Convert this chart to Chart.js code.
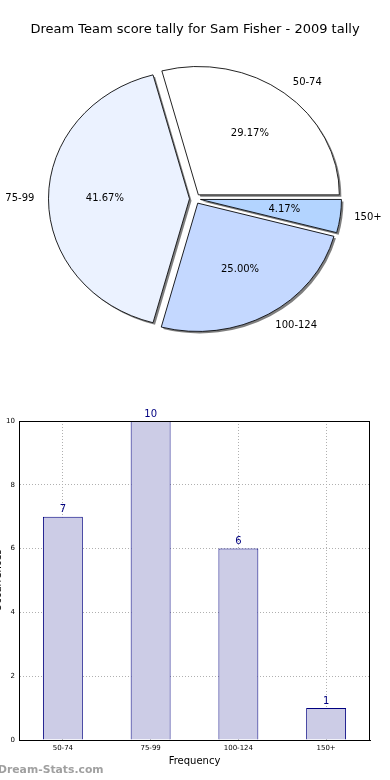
<!DOCTYPE html>
<html lang="en">
<head>
  <meta charset="UTF-8">
  <title>Dream Team score tally for Sam Fisher - 2009 tally</title>
  <script src="https://cdn.jsdelivr.net/npm/chart.js"></script>
  <style>
    body {
      margin: 0;
      background: #ffffff;
      font-family: "DejaVu Sans", sans-serif;
    }
    .wrap {
      position: relative;
      width: 390px;
      height: 780px;
      overflow: hidden;
    }
    #pieBox {
      position: absolute;
      left: 0; top: 0;
      width: 390px; height: 380px;
    }
    #barBox {
      position: absolute;
      left: 0; top: 380px;
      width: 390px; height: 400px;
    }
    .watermark {
      position: absolute;
      left: -2px; top: 763px;
      font-size: 10.8px;
      font-weight: bold;
      color: #a0a0a0;
    }
  </style>
</head>
<body>
<div class="wrap">
  <div id="pieBox"><canvas id="pieChart"></canvas></div>
  <div id="barBox"><canvas id="barChart"></canvas></div>
  <div class="watermark">Dream-Stats.com</div>
</div>

<script>
  const categories = ['50-74', '75-99', '100-124', '150+'];
  const counts = [7, 10, 6, 1];
  const pieColors = ['#ffffff', '#ebf2ff', '#c4d8ff', '#b3d4ff'];
  const yTicks = [0, 2, 4, 6, 8, 10];

  const total = counts.reduce((a, b) => a + b, 0);
  const pctLabels = counts.map(c => (c / total * 100).toFixed(2) + '%');

  // matplotlib goes counter-clockwise from 3 o'clock, chart.js clockwise -> reverse
  const pieLabels = categories.slice().reverse();
  const pieData = counts.slice().reverse();
  const piePct = pctLabels.slice().reverse();
  const pieBg = pieColors.slice().reverse();

  const Y_SQUASH = 0.91;  // axes aspect makes the pie a bit flat
  const SHIFT = 5.5;      // explode distance in px

  const ellipsePlugin = {
    id: 'ellipse',
    beforeDatasetDraw(chart, args) {
      const ctx = chart.ctx;
      const arcs = args.meta.data;
      const place = (a) => {
        const mid = (a.startAngle + a.endAngle) / 2;
        ctx.translate(a.x, a.y);
        ctx.scale(1, Y_SQUASH);
        ctx.translate(SHIFT * Math.cos(mid), SHIFT * Math.sin(mid));
        ctx.translate(-a.x, -a.y);
      };
      // shadows first
      arcs.forEach(a => {
        ctx.save();
        place(a);
        ctx.shadowColor = 'rgba(0,0,0,0.5)';
        ctx.shadowOffsetX = 2;
        ctx.shadowOffsetY = 2;
        ctx.shadowBlur = 0;
        const o = a.options;
        a.options = Object.assign({}, o, { borderWidth: 0 });
        a.draw(ctx);
        a.options = o;
        ctx.restore();
      });
      arcs.forEach(a => {
        ctx.save();
        place(a);
        a.draw(ctx);
        ctx.restore();
      });
      return false;
    },
    afterDatasetsDraw(chart) {
      const ctx = chart.ctx;
      const meta = chart.getDatasetMeta(0);
      ctx.save();
      ctx.font = '10px "DejaVu Sans"';
      ctx.fillStyle = '#000';
      ctx.textBaseline = 'middle';
      meta.data.forEach((a, i) => {
        const mid = (a.startAngle + a.endAngle) / 2;
        const c = Math.cos(mid), s = Math.sin(mid);
        const r = a.outerRadius;
        ctx.textAlign = 'center';
        ctx.fillText(piePct[i], a.x + (0.6 * r + SHIFT) * c, a.y + (0.6 * r + SHIFT) * s * Y_SQUASH);
        ctx.textAlign = c > 0 ? 'left' : 'right';
        ctx.fillText(pieLabels[i], a.x + (1.1 * r + SHIFT) * c, a.y + (1.1 * r + SHIFT) * s * Y_SQUASH);
      });
      ctx.restore();
    }
  };

  new Chart(document.getElementById('pieChart'), {
    type: 'pie',
    data: {
      labels: pieLabels,
      datasets: [{
        data: pieData,
        backgroundColor: pieBg,
        borderColor: '#000',
        borderWidth: 0.9
      }]
    },
    options: {
      responsive: true,
      maintainAspectRatio: false,
      animation: false,
      rotation: 90,
      radius: 141,
      layout: { padding: { bottom: 30 } },
      plugins: {
        legend: { display: false },
        tooltip: { enabled: false },
        title: {
          display: true,
          text: 'Dream Team score tally for Sam Fisher - 2009 tally',
          color: '#000',
          font: { family: 'DejaVu Sans', size: 13, weight: 'normal' },
          padding: { top: 22, bottom: 10 }
        }
      }
    },
    plugins: [ellipsePlugin]
  });

  // box frame, bar value labels, clipped y title
  const barExtras = {
    id: 'barExtras',
    afterDatasetsDraw(chart) {
      const { ctx, chartArea } = chart;
      const meta = chart.getDatasetMeta(0);
      ctx.save();
      ctx.strokeStyle = '#000';
      ctx.lineWidth = 1;
      ctx.strokeRect(chartArea.left + 0.5, chartArea.top + 0.5, chartArea.width - 1, chartArea.height);
      ctx.font = '10px "DejaVu Sans"';
      ctx.fillStyle = '#000080';
      ctx.textAlign = 'center';
      ctx.textBaseline = 'bottom';
      meta.data.forEach((bar, i) => {
        ctx.fillText(String(counts[i]), bar.x, bar.y - 2);
      });
      ctx.translate(-2, (chartArea.top + chartArea.bottom) / 2);
      ctx.rotate(-Math.PI / 2);
      ctx.fillStyle = '#000';
      ctx.textBaseline = 'middle';
      ctx.fillText('Occurrences', 0, 0);
      ctx.restore();
    }
  };

  new Chart(document.getElementById('barChart'), {
    type: 'bar',
    data: {
      labels: categories,
      datasets: [{
        data: counts,
        backgroundColor: 'rgb(204,204,230)',
        borderColor: '#000080',
        borderWidth: 1,
        barPercentage: 0.455,
        categoryPercentage: 1
      }]
    },
    options: {
      responsive: true,
      maintainAspectRatio: false,
      animation: false,
      layout: { padding: { top: 41, right: 20, left: 0, bottom: 13 } },
      scales: {
        x: {
          grid: {
            offset: false,
            color: '#b0b0b0',
            lineWidth: 1,
            drawTicks: false
          },
          border: { color: '#000', dash: [1, 2] },
          ticks: { color: '#000', font: { family: 'DejaVu Sans', size: 7 }, padding: 4 },
          title: {
            display: true,
            text: 'Frequency',
            color: '#000',
            font: { family: 'DejaVu Sans', size: 10 },
            padding: { top: 2, bottom: 0 }
          },
          afterFit(scale) { scale.height = 27; }
        },
        y: {
          min: 0,
          max: 10,
          afterBuildTicks(scale) { scale.ticks = yTicks.map(v => ({ value: v })); },
          grid: {
            color: '#b0b0b0',
            lineWidth: 1,
            drawTicks: false
          },
          border: { color: '#000', dash: [1, 2] },
          ticks: { color: '#000', font: { family: 'DejaVu Sans', size: 7 }, padding: 4 },
          afterFit(scale) { scale.width = 19; }
        }
      },
      plugins: {
        legend: { display: false },
        tooltip: { enabled: false }
      }
    },
    plugins: [barExtras]
  });
</script>
</body>
</html>
